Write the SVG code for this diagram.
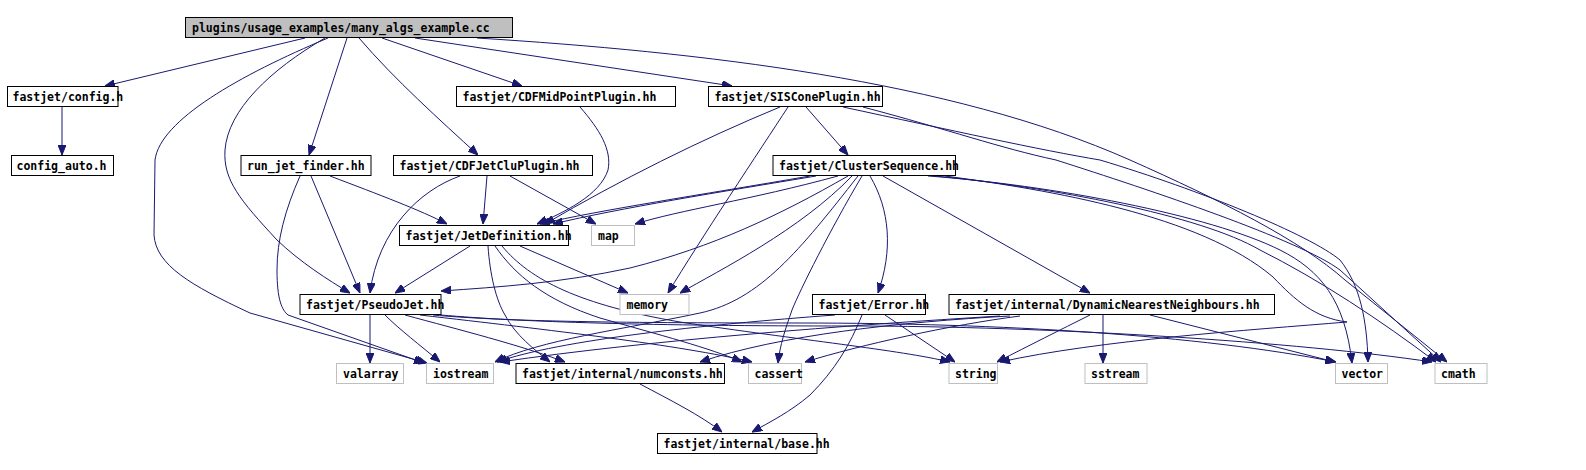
<svg xmlns="http://www.w3.org/2000/svg" width="1586" height="470" viewBox="0 0 1586 470">
<style>
.n rect{fill:#ffffff;stroke:#000000;stroke-width:1}
.g rect{fill:#ffffff;stroke:#bfbfbf;stroke-width:1}
.m rect{fill:#bfbfbf;stroke:#000000;stroke-width:1}
text{font-family:"DejaVu Sans Mono","Liberation Mono",monospace;font-size:11.5px;font-weight:bold;fill:#000000}
#edges path{fill:none;stroke:#191970;stroke-width:1;marker-end:url(#arr)}
</style>
<defs>
<marker id="arr" markerUnits="userSpaceOnUse" markerWidth="10" markerHeight="8" refX="10" refY="4" orient="auto">
<path d="M0,0 L10,4 L0,8 z" fill="#191970" stroke="#191970"/>
</marker>
</defs>
<rect width="1586" height="470" fill="#ffffff"/>
<g id="edges">
<path d="M305,38 L105,86"/>
<path d="M62,107 L62,155"/>
<path d="M328,38 C240,75 160,120 155,160 L154,235 C156,265 190,285 250,313 L427,363"/>
<path d="M325,38 C270,70 228,110 225,150 C223,180 240,200 277,240 C300,262 328,280 350,293"/>
<path d="M347,38 L309,155"/>
<path d="M359,38 C395,80 440,120 478,155"/>
<path d="M382,38 L522,86"/>
<path d="M415,38 L732,86"/>
<path d="M477,38 C700,52 950,80 1130,160 C1220,200 1300,240 1345,280 L1447,362"/>
<path d="M780,107 C700,140 620,180 545,224"/>
<path d="M788,107 C760,150 700,240 668,293"/>
<path d="M806,107 L848,155"/>
<path d="M843,107 C950,130 1040,150 1100,160 C1200,190 1310,235 1340,260 C1360,285 1367,320 1368,362"/>
<path d="M863,107 C950,130 1000,148 1056,160 C1150,190 1300,240 1340,270 L1441,362"/>
<path d="M580,107 C600,130 612,150 608,170 C600,195 565,212 537,224"/>
<path d="M330,176 C380,195 420,210 447,224"/>
<path d="M311,176 L360,293"/>
<path d="M300,176 C285,210 277,240 277,270 C277,300 282,310 288,315 L424,363"/>
<path d="M487,176 L483,224"/>
<path d="M460,176 C420,190 378,230 370,293"/>
<path d="M510,176 L596,224"/>
<path d="M810,176 C700,195 600,210 540,224"/>
<path d="M816,176 C720,192 620,208 553,224"/>
<path d="M838,176 C750,200 680,210 635,224"/>
<path d="M848,176 C780,215 713,247 630,268 C560,283 500,287 441,291"/>
<path d="M852,176 C800,230 720,270 680,293"/>
<path d="M858,176 C800,250 760,300 700,313 C620,330 540,340 495,362"/>
<path d="M862,176 C830,230 800,290 792,310 C785,330 780,345 778,363"/>
<path d="M870,176 C890,210 893,250 878,293"/>
<path d="M883,176 L1090,293"/>
<path d="M928,176 C1050,185 1210,215 1280,250 C1320,270 1345,300 1352,363"/>
<path d="M935,176 C1050,187 1200,215 1260,250 C1320,280 1380,320 1436,362"/>
<path d="M945,176 C1050,190 1200,215 1273,277 C1295,300 1315,318 1347,322 C1250,330 1100,340 1000,362"/>
<path d="M470,246 L395,293"/>
<path d="M488,246 C490,275 496,300 505,315 C515,335 535,350 550,362"/>
<path d="M495,246 C515,275 545,300 600,318 C660,335 710,348 742,362"/>
<path d="M502,246 C530,280 580,305 680,322 C800,340 900,350 950,362"/>
<path d="M520,246 L628,293"/>
<path d="M370,315 L370,363"/>
<path d="M385,315 C400,330 420,345 440,362"/>
<path d="M405,315 C460,330 520,345 565,362"/>
<path d="M420,315 C550,330 680,345 752,362"/>
<path d="M433,315 C500,321 600,323 800,323 C1000,323 1200,335 1336,362"/>
<path d="M441,315 C520,322 650,326 850,326 C1050,326 1300,342 1432,362"/>
<path d="M835,315 C700,325 560,340 497,362"/>
<path d="M885,315 L955,362"/>
<path d="M862,315 C850,345 835,370 810,395 C790,412 770,422 752,432"/>
<path d="M640,384 C670,400 700,415 722,432"/>
<path d="M1103,315 L1103,363"/>
<path d="M1090,315 C1060,330 1030,345 997,362"/>
<path d="M1150,315 L1335,362"/>
<path d="M1000,316 C850,325 650,340 500,362"/>
<path d="M1010,316 C900,322 780,335 700,362"/>
<path d="M1020,316 C950,325 860,345 805,362"/>
</g>
<g id="n0" class="m"><rect x="185.5" y="17.5" width="327" height="20"/><text x="192" y="31.5">plugins/usage_examples/many_algs_example.cc</text></g>
<g id="n1" class="n"><rect x="7.5" y="86.5" width="110.5" height="20"/><text x="12.5" y="100.5">fastjet/config.h</text></g>
<g id="n2" class="n"><rect x="11.5" y="155.5" width="102" height="20"/><text x="16.5" y="169.5">config_auto.h</text></g>
<g id="n3" class="n"><rect x="456.5" y="86.5" width="219" height="20"/><text x="462.5" y="100.5">fastjet/CDFMidPointPlugin.hh</text></g>
<g id="n4" class="n"><rect x="708.5" y="86.5" width="174" height="20"/><text x="714.5" y="100.5">fastjet/SISConePlugin.hh</text></g>
<g id="n5" class="n"><rect x="241" y="155.5" width="130" height="20"/><text x="247" y="169.5">run_jet_finder.hh</text></g>
<g id="n6" class="n"><rect x="393.5" y="155.5" width="199" height="20"/><text x="399.5" y="169.5">fastjet/CDFJetCluPlugin.hh</text></g>
<g id="n7" class="n"><rect x="773" y="155.5" width="182.5" height="20"/><text x="779" y="169.5">fastjet/ClusterSequence.hh</text></g>
<g id="n8" class="n"><rect x="399.5" y="225.5" width="169" height="20"/><text x="405.5" y="239.5">fastjet/JetDefinition.hh</text></g>
<g id="n9" class="g"><rect x="591.5" y="225.5" width="43" height="20"/><text x="598" y="239.5">map</text></g>
<g id="n10" class="n"><rect x="300" y="294.5" width="141" height="20"/><text x="306" y="308.5">fastjet/PseudoJet.hh</text></g>
<g id="n11" class="g"><rect x="620" y="294.5" width="69" height="20"/><text x="626.5" y="308.5">memory</text></g>
<g id="n12" class="n"><rect x="812.5" y="294.5" width="113" height="20"/><text x="818.5" y="308.5">fastjet/Error.hh</text></g>
<g id="n13" class="n"><rect x="949" y="294.5" width="325.5" height="20"/><text x="955" y="308.5">fastjet/internal/DynamicNearestNeighbours.hh</text></g>
<g id="n14" class="g"><rect x="336.5" y="363.5" width="67" height="20"/><text x="343" y="377.5">valarray</text></g>
<g id="n15" class="g"><rect x="426.5" y="363.5" width="67" height="20"/><text x="433" y="377.5">iostream</text></g>
<g id="n16" class="n"><rect x="516" y="363.5" width="208.5" height="20"/><text x="522" y="377.5">fastjet/internal/numconsts.hh</text></g>
<g id="n17" class="g"><rect x="748.5" y="363.5" width="53" height="20"/><text x="754.5" y="377.5">cassert</text></g>
<g id="n18" class="g"><rect x="949" y="363.5" width="48.5" height="20"/><text x="955" y="377.5">string</text></g>
<g id="n19" class="g"><rect x="1085" y="363.5" width="62" height="20"/><text x="1091" y="377.5">sstream</text></g>
<g id="n20" class="g"><rect x="1335.5" y="363.5" width="52" height="20"/><text x="1341.5" y="377.5">vector</text></g>
<g id="n21" class="g"><rect x="1435" y="363.5" width="52" height="20"/><text x="1441" y="377.5">cmath</text></g>
<g id="n22" class="n"><rect x="657.5" y="433.5" width="159.5" height="20"/><text x="663.5" y="447.5">fastjet/internal/base.hh</text></g>
</svg>
